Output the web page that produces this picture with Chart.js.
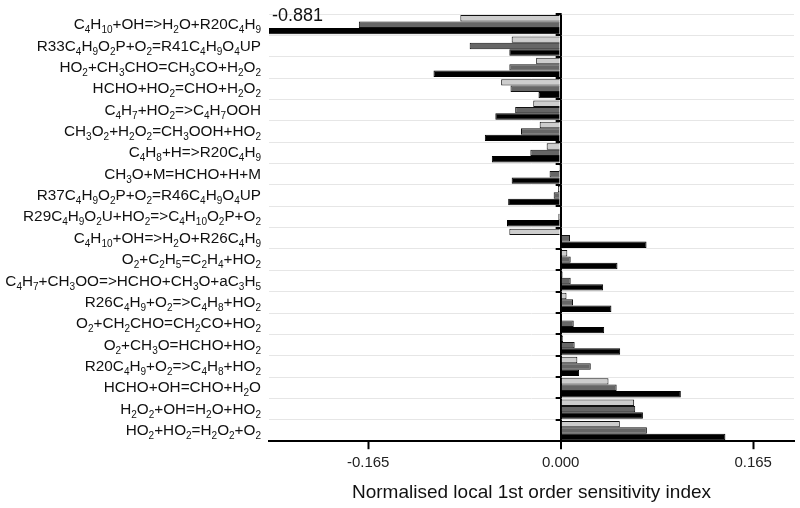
<!DOCTYPE html>
<html><head><meta charset="utf-8">
<script src="https://cdn.jsdelivr.net/npm/chart.js@4/dist/chart.umd.min.js"></script>
<style>html,body{margin:0;padding:0;background:#fff;}</style>
</head><body>
<canvas id="c" width="800" height="508"></canvas>
<script>
// ---- data ----
const reactions = [
  'C4H10+OH=>H2O+R20C4H9',
  'R33C4H9O2P+O2=R41C4H9O4UP',
  'HO2+CH3CHO=CH3CO+H2O2',
  'HCHO+HO2=CHO+H2O2',
  'C4H7+HO2=>C4H7OOH',
  'CH3O2+H2O2=CH3OOH+HO2',
  'C4H8+H=>R20C4H9',
  'CH3O+M=HCHO+H+M',
  'R37C4H9O2P+O2=R46C4H9O4UP',
  'R29C4H9O2U+HO2=>C4H10O2P+O2',
  'C4H10+OH=>H2O+R26C4H9',
  'O2+C2H5=C2H4+HO2',
  'C4H7+CH3OO=>HCHO+CH3O+aC3H5',
  'R26C4H9+O2=>C4H8+HO2',
  'O2+CH2CHO=CH2CO+HO2',
  'O2+CH3O=HCHO+HO2',
  'R20C4H9+O2=>C4H8+HO2',
  'HCHO+OH=CHO+H2O',
  'H2O2+OH=H2O+HO2',
  'HO2+HO2=H2O2+O2'
];
const seriesLight = [-0.086, -0.042, -0.021, -0.051, -0.0235, -0.018, -0.012, -0.0015, -0.0023, -0.001, -0.044, 0.0057, 0.0017, 0.005, 0.001, 0.002, 0.0143, 0.041, 0.063, 0.0507];
const seriesDark  = [-0.173, -0.078, -0.044, -0.043, -0.039, -0.034, -0.026, -0.0095, -0.006, -0.002, 0.008, 0.0086, 0.0086, 0.0106, 0.0112, 0.012, 0.0258, 0.048, 0.0639, 0.0739];
const seriesBlack = [-0.881, -0.044, -0.109, -0.019, -0.056, -0.065, -0.059, -0.042, -0.045, -0.046, 0.0736, 0.0487, 0.0364, 0.0435, 0.0373, 0.051, 0.0158, 0.103, 0.0705, 0.1412];
const xTickValues = [-0.165, 0, 0.165];
const xTitle = 'Normalised local 1st order sensitivity index';

const FONT = '"Liberation Sans", Arial, Helvetica, sans-serif';

function segments(label) {
  const out = []; let prev = ''; let sub = false;
  for (const ch of label) {
    const isD = /[0-9]/.test(ch);
    if (isD) {
      if (!/[0-9]/.test(prev)) sub = /[A-Za-z]/.test(prev) && prev !== 'R';
    } else sub = false;
    const s = isD && sub;
    if (out.length && out[out.length - 1].sub === s) out[out.length - 1].t += ch;
    else out.push({ t: ch, sub: s });
    prev = ch;
  }
  return out;
}

const labelPlugin = {
  id: 'labelPlugin',
  afterDraw(chart) {
    const ctx = chart.ctx, y = chart.scales.y, x = chart.scales.x, area = chart.chartArea;
    ctx.save();
    ctx.fillStyle = '#111';
    ctx.textBaseline = 'alphabetic';
    ctx.textAlign = 'left';
    reactions.forEach((lab, i) => {
      const yc = y.getPixelForValue(i) + 4.5;
      const ss = segments(lab);
      let w = 0;
      ss.forEach(s => { ctx.font = (s.sub ? '10px ' : '15.3px ') + FONT; s.w = ctx.measureText(s.t).width; w += s.w; });
      let xx = area.left - 8 - w;
      ss.forEach(s => { ctx.font = (s.sub ? '10px ' : '15.3px ') + FONT; ctx.fillText(s.t, xx, yc + (s.sub ? 4 : 0)); xx += s.w; });
    });
    // small ticks on zero line at row boundaries
    const x0 = x.getPixelForValue(0);
    const step = (y.bottom - y.top) / reactions.length;
    ctx.strokeStyle = '#000'; ctx.lineWidth = 2;
    for (let i = 0; i < reactions.length; i++) {
      const yy = Math.round(y.top + i * step);
      ctx.beginPath(); ctx.moveTo(x0 - 5, yy); ctx.lineTo(x0 + 1, yy); ctx.stroke();
    }
    // clipped value annotation
    seriesBlack.forEach((v, i) => {
      if (v < x.min) {
        ctx.font = '18px ' + FONT;
        ctx.fillStyle = '#111';
        ctx.fillText(v.toFixed(3), area.left + 3, y.getPixelForValue(i) - 3.5);
      }
    });
    ctx.restore();
  }
};

new Chart(document.getElementById('c'), {
  type: 'bar',
  data: {
    labels: reactions,
    datasets: [
      { data: seriesLight, backgroundColor: '#cdcdcd', borderColor: '#111', borderWidth: 1 },
      { data: seriesDark, backgroundColor: '#666666', borderColor: '#111', borderWidth: 1 },
      { data: seriesBlack, backgroundColor: '#000', borderColor: '#000', borderWidth: 1 }
    ]
  },
  options: {
    indexAxis: 'y',
    responsive: false,
    animation: false,
    devicePixelRatio: 1,
    datasets: { bar: { categoryPercentage: 0.9, barPercentage: 1.0 } },
    layout: { padding: { top: 14, right: 6, left: 0, bottom: 0 } },
    plugins: { legend: { display: false }, tooltip: { enabled: false } },
    scales: {
      x: {
        min: -0.25, max: 0.2,
        afterBuildTicks: s => { s.ticks = xTickValues.map(v => ({ value: v })); },
        ticks: { callback: v => Number(v).toFixed(3), font: { family: FONT, size: 15 }, color: '#222', padding: 5, maxRotation: 0 },
        grid: {
          color: c => (c.tick && c.tick.value === 0) ? '#000' : 'rgba(0,0,0,0)',
          lineWidth: c => (c.tick && c.tick.value === 0) ? 2 : 1,
          tickColor: '#000', tickLength: 8, tickWidth: 2
        },
        border: { display: true, color: '#000', width: 2 },
        title: { display: true, text: xTitle, font: { family: FONT, size: 19 }, color: '#111', padding: { top: 4, bottom: 4 } }
      },
      y: {
        afterFit: s => { s.width = 269; },
        ticks: { display: false },
        grid: { color: '#e6e6e6', lineWidth: 1, drawTicks: false, offset: true },
        border: { display: false }
      }
    }
  },
  plugins: [labelPlugin]
});
</script>
</body></html>
